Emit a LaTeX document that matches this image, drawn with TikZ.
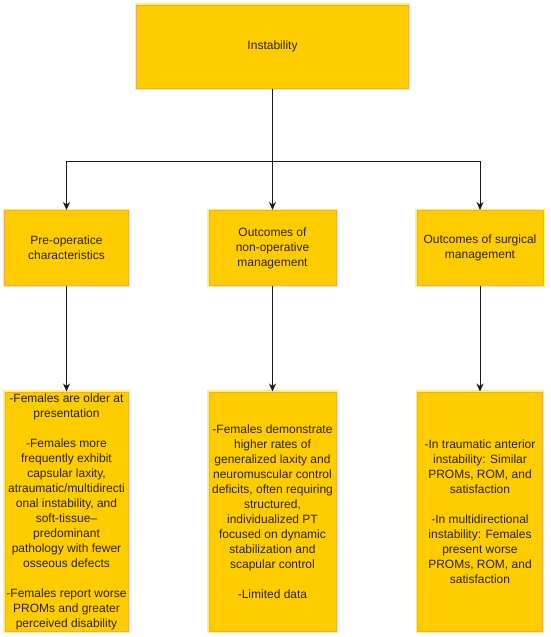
\documentclass[tikz,border=0pt]{standalone}
\usepackage{fontspec}
\setmainfont{Liberation Sans}
\usetikzlibrary{arrows.meta}
\definecolor{boxfill}{HTML}{FFCC00}
\definecolor{boxline}{HTML}{EFA84A}
\definecolor{halo}{HTML}{FFF07A}
\definecolor{txt}{HTML}{2E2400}
\begin{document}
\begin{tikzpicture}[x=1pt,y=-1pt,
  box/.style={draw=boxline, fill=boxfill, line width=1pt, align=center,
    preaction={draw=halo, line width=3.5pt},
    font=\fontsize{12}{15}\selectfont, inner sep=0pt, text=txt},
  conn/.style={draw=black!90, line width=1pt},
  arr/.style={conn, -{Stealth[length=8pt,width=7pt,inset=2.5pt]}}]
\useasboundingbox (0,0) rectangle (550,637);

\node[box, minimum width=272pt, minimum height=83pt] (top) at (272.5,46.5) {Instability};

\node[box, minimum width=124pt, minimum height=75pt] (b1) at (66.5,248) {Pre-operatice\\characteristics};
\node[box, minimum width=127pt, minimum height=75pt] (b2) at (272.5,248) {Outcomes of\\non-operative\\management};
\node[box, minimum width=126pt, minimum height=75pt] (b3) at (480,248) {Outcomes of surgical\\management};

\node[box, minimum width=123pt, minimum height=239pt] (c1) at (66.5,511.5) {-Females are older at\\presentation\\[15pt]-Females more\\frequently exhibit\\capsular laxity,\\atraumatic/multidirecti\\onal instability, and\\soft-tissue–\\predominant\\pathology with fewer\\osseous defects\\[15pt]-Females report worse\\PROMs and greater\\perceived disability};
\node[box, minimum width=127pt, minimum height=239pt] (c2) at (272.5,511.5) {-Females demonstrate\\higher rates of\\generalized laxity and\\neuromuscular control\\deficits, often requiring\\structured,\\individualized PT\\focused on dynamic\\stabilization and\\scapular control\\[15pt]-Limited data};
\node[box, minimum width=125pt, minimum height=239pt] (c3) at (480,511.5) {-In traumatic anterior\\instability: Similar\\PROMs, ROM, and\\satisfaction\\[15pt]-In multidirectional\\instability: Females\\present worse\\PROMs, ROM, and\\satisfaction};

\coordinate (hub) at (272.5,161);
\draw[conn] (top.south) -- (hub);
\draw[arr] (hub) -| (b1.north);
\draw[arr] (hub) -- (b2.north);
\draw[arr] (hub) -| (b3.north);

\draw[arr] (b1.south) -- (c1.north);
\draw[arr] (b2.south) -- (c2.north);
\draw[arr] (b3.south) -- (c3.north);
\end{tikzpicture}
\end{document}
